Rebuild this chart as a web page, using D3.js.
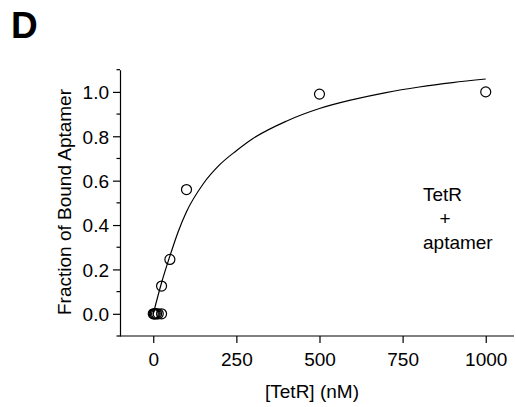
<!DOCTYPE html>
<html><head><meta charset="utf-8">
<script src="https://cdn.jsdelivr.net/npm/d3@7"></script>
<style>
body{margin:0;background:#fff;}
svg{display:block;font-family:"Liberation Sans",Arial,sans-serif;}
</style></head>
<body><svg id="c" width="516" height="407"></svg>
<script>
// Data
const pointX = [0, 3, 6, 10, 15, 25, 25, 50, 100, 500, 1000];
const pointY = [0, 0, 0, 0, 0, 0, 0.125, 0.245, 0.56, 0.99, 1.0];
const fitX = [0, 25, 50, 75, 100, 150, 200, 250, 300, 400, 500, 600, 700, 800, 900, 1000];
const fitY = [0.0, 0.14, 0.26, 0.37, 0.46, 0.585, 0.672, 0.735, 0.79, 0.868, 0.925, 0.965, 0.997, 1.022, 1.042, 1.058];
const xTicks = [0, 250, 500, 750, 1000];
const yTicks = [0, 0.2, 0.4, 0.6, 0.8, 1.0];
const yMinor = [-0.1, 0.1, 0.3, 0.5, 0.7, 0.9, 1.1];

const svg = d3.select("#c");
const x = d3.scaleLinear().domain([-100, 1085]).range([120, 514]);
const y = d3.scaleLinear().domain([-0.1, 1.1]).range([336, 69.7]);
const FS = 19;

// panel letter
svg.append("text").attr("x", 11).attr("y", 38).attr("font-size", 37).attr("font-weight", "bold").text("D");

// x axis
const gx = svg.append("g").attr("transform", `translate(0,${y(-0.1)})`)
  .call(d3.axisBottom(x).tickValues(xTicks).tickSize(7).tickSizeOuter(0).tickFormat(d3.format("d")));
gx.selectAll("text").attr("font-size", FS).attr("y", 30).attr("dy", 0).attr("fill", "#000");
gx.selectAll("line,path").attr("stroke", "#000").attr("stroke-width", 1.2);
gx.select(".domain").attr("d", `M${x(-100)},0H${x(1085)}`);

// y axis
const gy = svg.append("g").attr("transform", `translate(${x(-100)},0)`)
  .call(d3.axisLeft(y).tickValues(yTicks).tickSize(7).tickSizeOuter(0).tickFormat(d3.format(".1f")));
gy.selectAll("text").attr("font-size", FS).attr("fill", "#000").attr("x", -11).attr("dy", "0.36em");
gy.selectAll("line,path").attr("stroke", "#000").attr("stroke-width", 1.2);
gy.selectAll(".minor").data(yMinor).enter().append("line")
  .attr("x1", 0).attr("x2", -3.5).attr("y1", d => y(d)).attr("y2", d => y(d))
  .attr("stroke", "#000").attr("stroke-width", 1.2);

// axis titles
svg.append("text").attr("x", 312).attr("y", 398).attr("text-anchor", "middle").attr("font-size", FS).text("[TetR] (nM)");
svg.append("text").attr("transform", `translate(71,202) rotate(-90)`)
  .attr("text-anchor", "middle").attr("font-size", FS).text("Fraction of Bound Aptamer");

// fit curve
const fit = fitX.map((d, i) => [d, fitY[i]]);
svg.append("path").datum(fit)
  .attr("d", d3.line().x(d => x(d[0])).y(d => y(d[1])).curve(d3.curveMonotoneX))
  .attr("fill", "none").attr("stroke", "#000").attr("stroke-width", 1.2);

// points
svg.selectAll(".pt").data(pointX.map((d, i) => [d, pointY[i]])).enter().append("circle")
  .attr("cx", d => x(d[0])).attr("cy", d => y(d[1])).attr("r", 5)
  .attr("fill", "none").attr("stroke", "#000").attr("stroke-width", 1.2);

// annotation
const ann = svg.append("g").attr("font-size", FS);
ann.append("text").attr("x", 423).attr("y", 201).text("TetR");
ann.append("text").attr("x", 445).attr("y", 225).attr("text-anchor", "middle").text("+");
ann.append("text").attr("x", 423).attr("y", 249).text("aptamer");
</script></body></html>
